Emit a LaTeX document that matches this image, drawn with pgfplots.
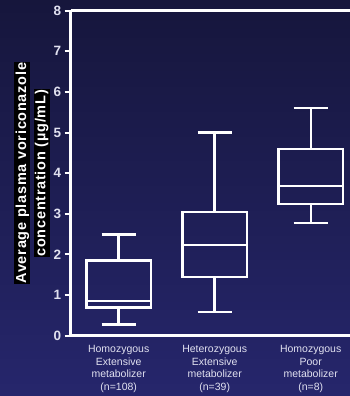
\documentclass[border=0pt]{standalone}
\usepackage{pgfplots}
\pgfplotsset{compat=1.18}
\usepgfplotslibrary{statistics}
\usepackage{fontspec}
\setmainfont{Liberation Sans}
\newfontfamily\ylabfont[LetterSpace=5]{Liberation Sans}
\definecolor{bgtop}{RGB}{22,22,60}
\definecolor{bgbot}{RGB}{38,38,108}
\definecolor{lab}{RGB}{225,225,240}
\begin{document}
\begin{tikzpicture}
\shade[top color=bgtop, bottom color=bgbot] (-70.7pt,-60.3pt) rectangle (279.3pt,335.7pt);
\begin{axis}[
  at={(0,0)}, anchor=south west,
  scale only axis, width=288pt, height=325pt,
  xmin=0.5, xmax=3.5, ymin=0, ymax=8,
  axis x line=box, axis y line=left,
  axis line style={-, white, line width=2.4pt},
  ytick={0,1,...,8},
  xtick={1,2,3},
  xticklabels={{Homozygous\\Extensive\\metabolizer\\(n=108)},{Heterozygous\\Extensive\\metabolizer\\(n=39)},{Homozygous\\Poor\\metabolizer\\(n=8)}},
  tick align=outside,
  major tick length=6pt,
  y tick style={white, line width=2pt},
  x tick style={draw=none},
  /pgf/number format/assume math mode=true,
  yticklabel style={font=\fontsize{13.5}{15}\selectfont\bfseries, text=lab},
  xticklabel style={align=center, font=\fontsize{10.5}{12.6}\selectfont, text=lab},
  boxplot/draw direction=y,
  clip=false,
]
\addplot[draw=white, line width=2.4pt, solid, mark=none, boxplot prepared={median=0.855, upper quartile=1.85, lower quartile=0.69, upper whisker=2.49, lower whisker=0.28, draw position=1, box extend=0.67, whisker extend=0.354}] coordinates {};
\addplot[draw=white, line width=2.4pt, solid, mark=none, boxplot prepared={median=2.23, upper quartile=3.05, lower quartile=1.45, upper whisker=5.0, lower whisker=0.58, draw position=2, box extend=0.67, whisker extend=0.354}] coordinates {};
\addplot[draw=white, line width=2.4pt, solid, mark=none, boxplot prepared={median=3.69, upper quartile=4.59, lower quartile=3.24, upper whisker=5.6, lower whisker=2.78, draw position=3, box extend=0.67, whisker extend=0.354}] coordinates {};
\node[xshift=-48.4pt, rotate=90, fill=black, text=white, inner sep=0.6pt, text height=11pt, text depth=3.5pt, font=\ylabfont\fontsize{14.5}{16}\selectfont\bfseries] at (rel axis cs:0,0.5) {Average plasma voriconazole};
\node[xshift=-29pt, rotate=90, fill=black, text=white, inner sep=0.6pt, text height=11pt, text depth=3.5pt, font=\ylabfont\fontsize{14.5}{16}\selectfont\bfseries] at (rel axis cs:0,0.5) {concentration (µg/mL)};
\end{axis}
\pgfresetboundingbox
\path[use as bounding box] (-70.7pt,-60.3pt) rectangle (279.3pt,335.7pt);
\end{tikzpicture}
\end{document}
